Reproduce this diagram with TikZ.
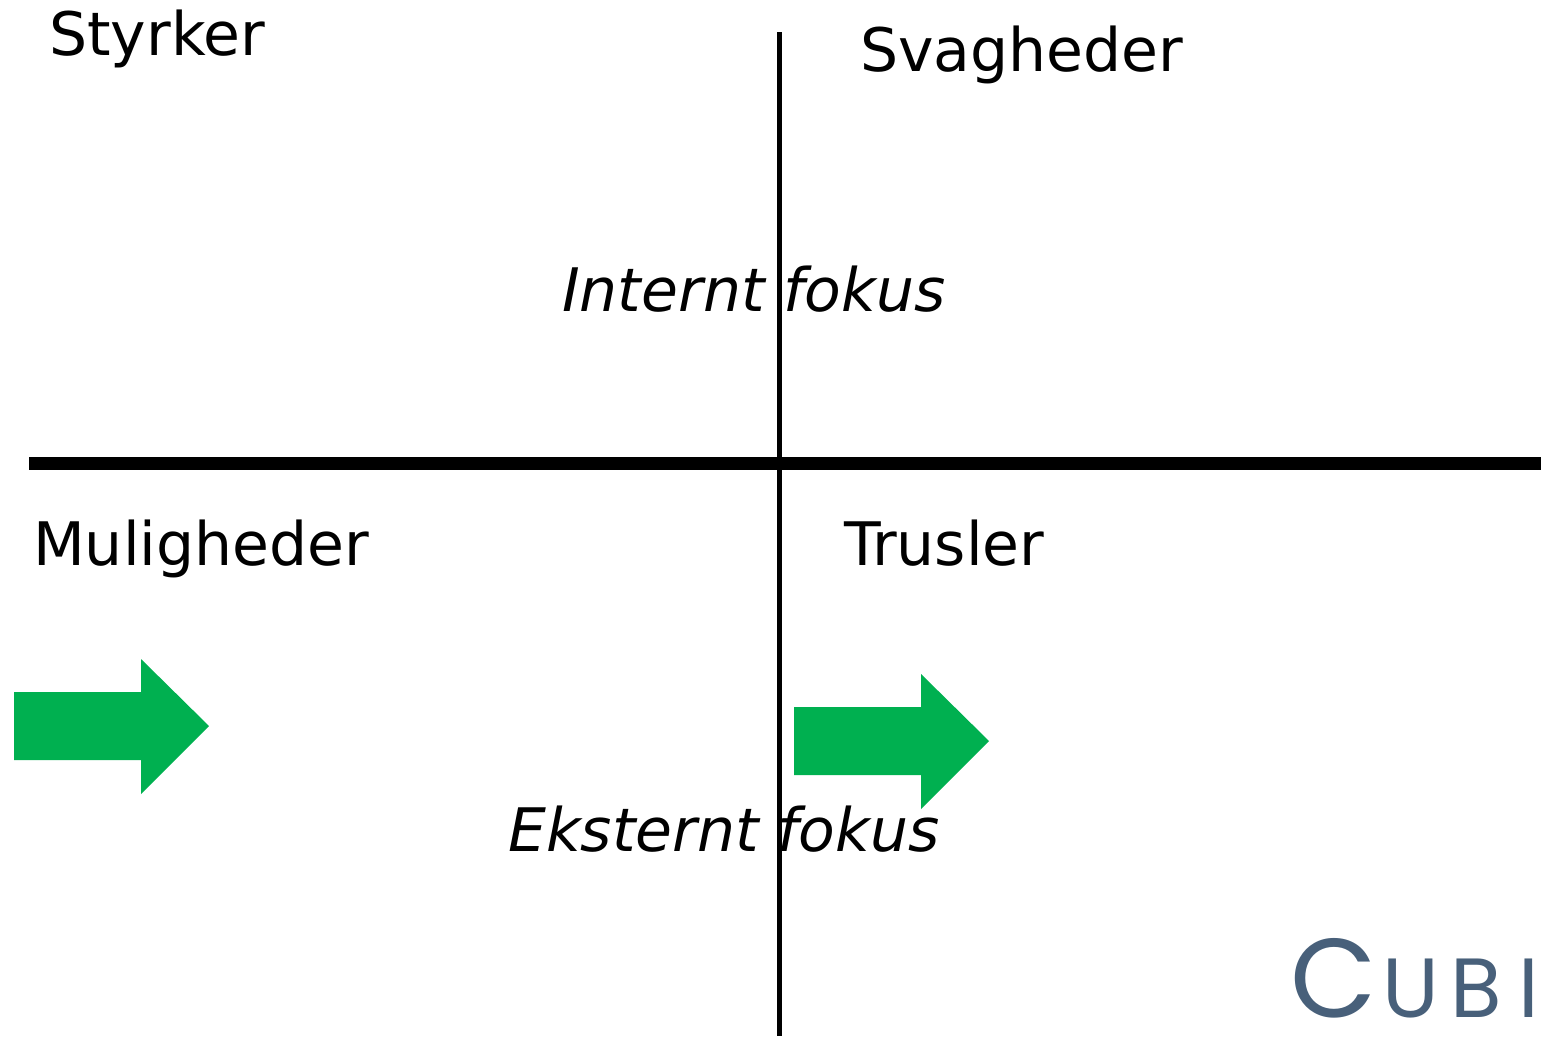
\documentclass[tikz,border=0pt]{standalone}
\usepackage{fontspec}
\setmainfont{DejaVu Sans}
\newfontfamily\logofont{Poppins}
\usepackage{tikz}
\definecolor{cubigreen}{RGB}{0,176,80}
\definecolor{cubiblue}{RGB}{72,96,122}
\tikzset{
  title/.style={anchor=base west,inner sep=0pt,font=\fontsize{60}{60}\selectfont},
  focus/.style={anchor=base west,inner sep=0pt,font=\fontsize{60}{60}\selectfont\itshape},
  greenarrow/.style={fill=cubigreen},
  logotext/.style={anchor=base west,inner sep=0pt,text=cubiblue,font=\logofont\fontsize{84}{84}\selectfont}
}
\begin{document}
\begin{tikzpicture}[x=1pt,y=-1pt]
  \useasboundingbox (0,0) rectangle (1541,1036);
  \coordinate (vtop) at (779,32);
  \coordinate (vbot) at (779,1036);
  \coordinate (hleft) at (29,463);
  \coordinate (hright) at (1541,463);
  \draw[line width=5pt] (vtop) -- (vbot);
  \draw[line width=13pt] (hleft) -- (hright);
  %
  \node[title] (styrker) at (49,55) {Styrker};
  \node[title] (svagheder) at (860,71) {Svagheder};
  \node[title] (muligheder) at (33,565) {Muligheder};
  \node[title] (trusler) at (844,565) {Trusler};
  \node[focus] (internt) at (562,311) {Internt fokus};
  \node[focus] (eksternt) at (508,851) {Eksternt fokus};
  %
  \fill[greenarrow] (14,692) -- (141,692) -- (141,659) -- (209,726) -- (141,794) -- (141,760) -- (14,760) -- cycle;
  \fill[greenarrow] (794,707) -- (921,707) -- (921,674) -- (989,741) -- (921,809) -- (921,775) -- (794,775) -- cycle;
  %
  \node[logotext,font=\logofont\fontsize{112}{112}\selectfont] (logoc) at (1290,1017) {C};
  \node[logotext] (logou) at (1382,1017) {U};
  \node[logotext] (logob) at (1450,1017) {B};
  \node[logotext] (logoi) at (1518,1017) {I};
\end{tikzpicture}
\end{document}
